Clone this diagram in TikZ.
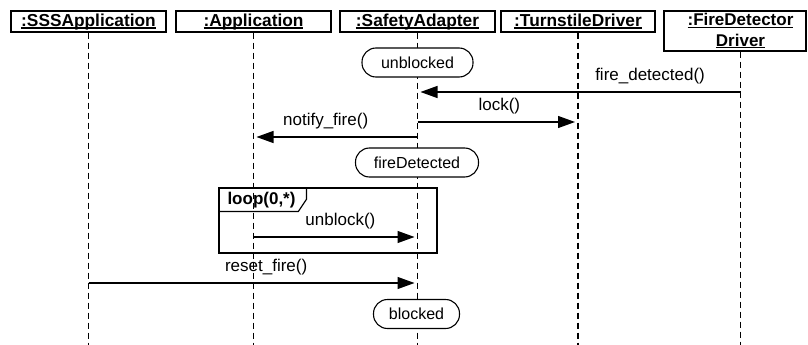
\documentclass[tikz,border=0pt]{standalone}
\usepackage{fontspec}
\setmainfont{Liberation Sans}
\usetikzlibrary{arrows.meta}
\newbox\ulbx
\newcommand\ulx[1]{\setbox\ulbx\hbox{#1}\rlap{\rule[-2pt]{\wd\ulbx}{1.3pt}}\box\ulbx}
\begin{document}
\begin{tikzpicture}[x=1pt,y=-1pt,
  every node/.style={font=\fontsize{17}{20}\selectfont},
  header/.style={draw, line width=1.2pt, minimum height=21pt, inner sep=0pt,
    text height=12pt, text depth=1.5pt, font=\fontsize{17.3}{20}\selectfont\bfseries},
  life/.style={line width=1.1pt, dash pattern=on 6pt off 4pt},
  msg/.style={line width=1.2pt, -{Triangle[length=17pt,width=12pt]}, shorten >=3pt},
  lbl/.style={inner sep=0pt, text height=12pt, text depth=3.6pt, yshift=15.5pt},
  state/.style={draw, fill=white, line width=1.1pt, rounded corners=14pt,
    minimum height=29pt, inner sep=0pt, text height=11.5pt, text depth=0pt,
    font=\fontsize{16}{20}\selectfont},
  frame/.style={draw, line width=1.2pt, inner sep=0pt}]
\useasboundingbox (0,0) rectangle (808,345);
\coordinate (bot) at (0,345);
% headers
\node[header, minimum width=155pt] (sss) at (88.5,21.5) {\ulx{:SSSApplication}};
\node[header, minimum width=155pt] (app) at (253.5,21.5) {\ulx{:Application}};
\node[header, minimum width=155pt] (saf) at (417.5,21.5) {\ulx{:SafetyAdapter}};
\node[header, minimum width=154pt] (tur) at (578,21.5) {\ulx{:TurnstileDriver}};
\node[draw, line width=1.2pt, minimum width=142pt, minimum height=40pt, inner sep=0pt] (fdd) at (735,31) {};
\node[align=center, font=\fontsize{17}{20.5}\selectfont\bfseries, inner sep=0pt] (fddt) at (740.5,31) {\ulx{:FireDetector}\\\ulx{Driver}};
% lifelines
\draw[life] (sss.south) -- (sss.south |- bot);
\draw[life] (app.south) -- (app.south |- bot);
\draw[life] (saf.south) -- (saf.south |- bot);
\draw[life] (tur.south) -- (tur.south |- bot);
\draw[life] (fddt |- fdd.south) -- (fddt |- bot);
% states
\node[state, minimum width=111pt] (unb) at (417.5,62.5) {unblocked};
\node[state, minimum width=123pt] (fdet) at (417,162.5) {fireDetected};
\node[state, minimum width=86pt] (blk) at (416.5,314) {blocked};
% loop frame
\node[frame, minimum width=218pt, minimum height=65pt] (loop) at (328,220.5) {};
\draw[line width=1.2pt] (loop.north west) ++(0,24) -- ++(80,0) -- ++(8,-12) -- ++(0,-12);
\node[inner sep=0pt, text height=12pt, text depth=3.6pt, font=\fontsize{17}{20}\selectfont\bfseries] (looplbl) at (261.5,200) {loop(0,*)};
% message end points
\coordinate (fd92) at (740.5,92);  \coordinate (sa92) at (417.5,92);
\coordinate (sa122) at (417.5,122); \coordinate (tu122) at (578,122);
\coordinate (sa137) at (417.5,137); \coordinate (ap137) at (253.5,137);
\coordinate (ap237) at (253.5,237); \coordinate (sa237) at (417.5,237);
\coordinate (ss283) at (88.5,283);  \coordinate (sa283) at (417.5,283);
% messages
\draw[msg] (fd92) -- node[lbl, pos=0.28] (l1) {fire\_detected()} (sa92);
\draw[msg] (sa122) -- node[lbl, pos=0.51] (l2) {lock()} (tu122);
\draw[msg] (sa137) -- node[lbl, pos=0.56] (l3) {notify\_fire()} (ap137);
\draw[msg] (ap237) -- node[lbl, pos=0.53] (l4) {unblock()} (sa237);
\draw[msg] (ss283) -- node[lbl, pos=0.54] (l5) {reset\_fire()} (sa283);
\end{tikzpicture}
\end{document}
